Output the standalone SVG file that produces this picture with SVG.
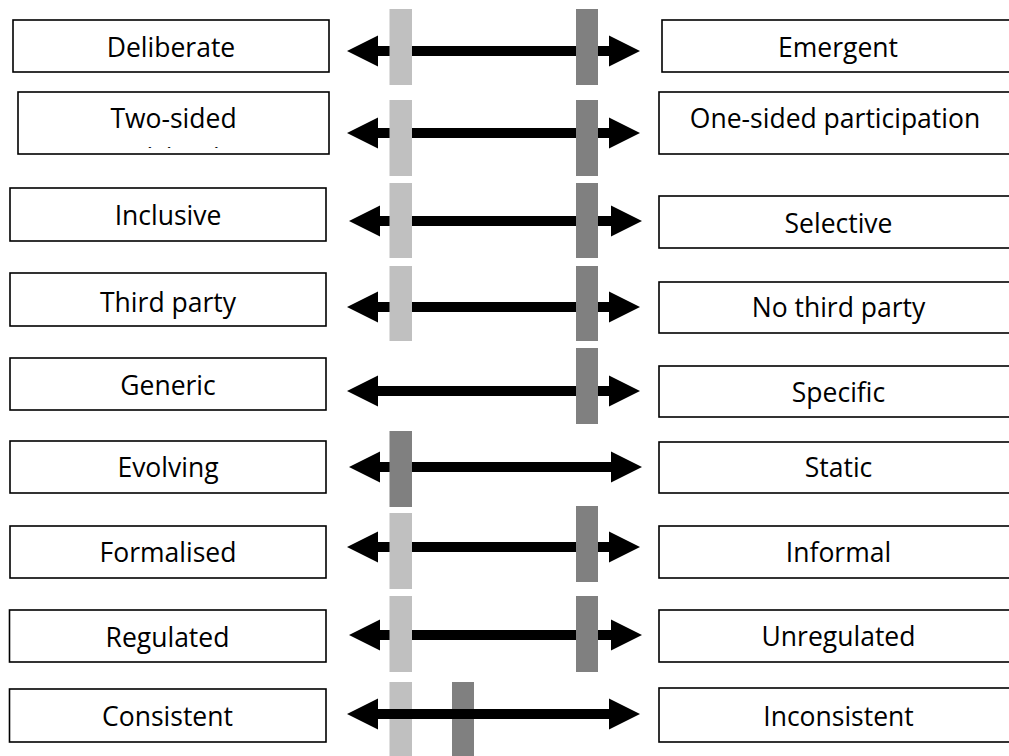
<svg xmlns="http://www.w3.org/2000/svg" width="1009" height="756" viewBox="0 0 1009 756">
<style>
.box{fill:#fff;stroke:#000;stroke-width:1.6}
.t{font-family:"Open Sans","Noto Sans",sans-serif;font-size:26.5px;fill:#000;text-anchor:middle}
.lb{fill:#c0c0c0}
.db{fill:#808080}
.ar{fill:#000}
</style>
<defs>
<path id="arr" d="M0 0 L31 -15.5 L31 -5 L262 -5 L262 -15.5 L293 0 L262 15.5 L262 5 L31 5 L31 15.5 Z"/>
<clipPath id="clip2"><rect x="18" y="92" width="311" height="56"/></clipPath>
</defs>
<rect width="1009" height="756" fill="#fff"/>

<g id="connectors">
<use href="#arr" class="ar" x="347" y="51"/>
<use href="#arr" class="ar" x="347" y="133"/>
<use href="#arr" class="ar" x="349" y="221"/>
<use href="#arr" class="ar" x="347" y="307"/>
<use href="#arr" class="ar" x="347" y="391"/>
<use href="#arr" class="ar" x="349" y="467"/>
<use href="#arr" class="ar" x="347" y="547"/>
<use href="#arr" class="ar" x="349" y="635"/>
</g>

<g id="bars">
<rect class="lb" x="389.5" y="9" width="22.5" height="76"/>
<rect class="db" x="576" y="9" width="22" height="76"/>
<rect class="lb" x="389.5" y="100" width="22.5" height="76"/>
<rect class="db" x="576" y="100" width="22" height="76"/>
<rect class="lb" x="389.5" y="183" width="22.5" height="75"/>
<rect class="db" x="576" y="183" width="22" height="75"/>
<rect class="lb" x="389.5" y="266" width="22.5" height="75"/>
<rect class="db" x="576" y="266" width="22" height="75"/>
<rect class="db" x="576" y="348" width="22" height="76"/>
<rect class="db" x="389.5" y="431" width="22.5" height="76"/>
<rect class="lb" x="389.5" y="513" width="22.5" height="76"/>
<rect class="db" x="576" y="506" width="22" height="76"/>
<rect class="lb" x="389.5" y="596" width="22.5" height="76"/>
<rect class="db" x="576" y="596" width="22" height="76"/>
<rect class="lb" x="389.5" y="682" width="22.5" height="80"/>
<rect class="db" x="452" y="682" width="22" height="80"/>
</g>

<g id="connector-consistent">
<use href="#arr" class="ar" x="347" y="714"/>
</g>

<g id="node-deliberate"><rect class="box" x="13" y="20" width="316" height="52"/><text class="t" x="171" y="57">Deliberate</text></g>
<g id="node-emergent"><rect class="box" x="662" y="20" width="360" height="52"/><text class="t" x="838" y="57">Emergent</text></g>

<g id="node-two-sided"><rect class="box" x="18" y="92" width="311" height="62"/><text class="t" x="173.5" y="128">Two-sided</text><text class="t" x="173.5" y="167" clip-path="url(#clip2)">participation</text></g>
<g id="node-one-sided"><rect class="box" x="659" y="92" width="360" height="62"/><text class="t" x="835" y="128">One-sided participation</text></g>

<g id="node-inclusive"><rect class="box" x="10" y="188" width="316" height="53"/><text class="t" x="168" y="225">Inclusive</text></g>
<g id="node-selective"><rect class="box" x="659" y="196" width="360" height="52"/><text class="t" x="838.5" y="233">Selective</text></g>

<g id="node-third-party"><rect class="box" x="10" y="273" width="316" height="53"/><text class="t" x="168" y="312">Third party</text></g>
<g id="node-no-third-party"><rect class="box" x="659" y="282" width="360" height="51"/><text class="t" x="838.5" y="317">No third party</text></g>

<g id="node-generic"><rect class="box" x="10" y="358" width="316" height="52"/><text class="t" x="168" y="395">Generic</text></g>
<g id="node-specific"><rect class="box" x="659" y="366" width="360" height="51"/><text class="t" x="838.5" y="402">Specific</text></g>

<g id="node-evolving"><rect class="box" x="10" y="441" width="316" height="52"/><text class="t" x="168" y="477">Evolving</text></g>
<g id="node-static"><rect class="box" x="659" y="442" width="360" height="51"/><text class="t" x="838.5" y="477">Static</text></g>

<g id="node-formalised"><rect class="box" x="10" y="526" width="316" height="52"/><text class="t" x="168" y="562">Formalised</text></g>
<g id="node-informal"><rect class="box" x="659" y="526" width="360" height="52"/><text class="t" x="838.5" y="562">Informal</text></g>

<g id="node-regulated"><rect class="box" x="9.5" y="610" width="316.5" height="52"/><text class="t" x="167.5" y="647">Regulated</text></g>
<g id="node-unregulated"><rect class="box" x="659" y="610" width="360" height="52"/><text class="t" x="838.5" y="646">Unregulated</text></g>

<g id="node-consistent"><rect class="box" x="9.5" y="689" width="316.5" height="53"/><text class="t" x="167.5" y="726">Consistent</text></g>
<g id="node-inconsistent"><rect class="box" x="659" y="688" width="360" height="54"/><text class="t" x="838.5" y="726">Inconsistent</text></g>
</svg>
